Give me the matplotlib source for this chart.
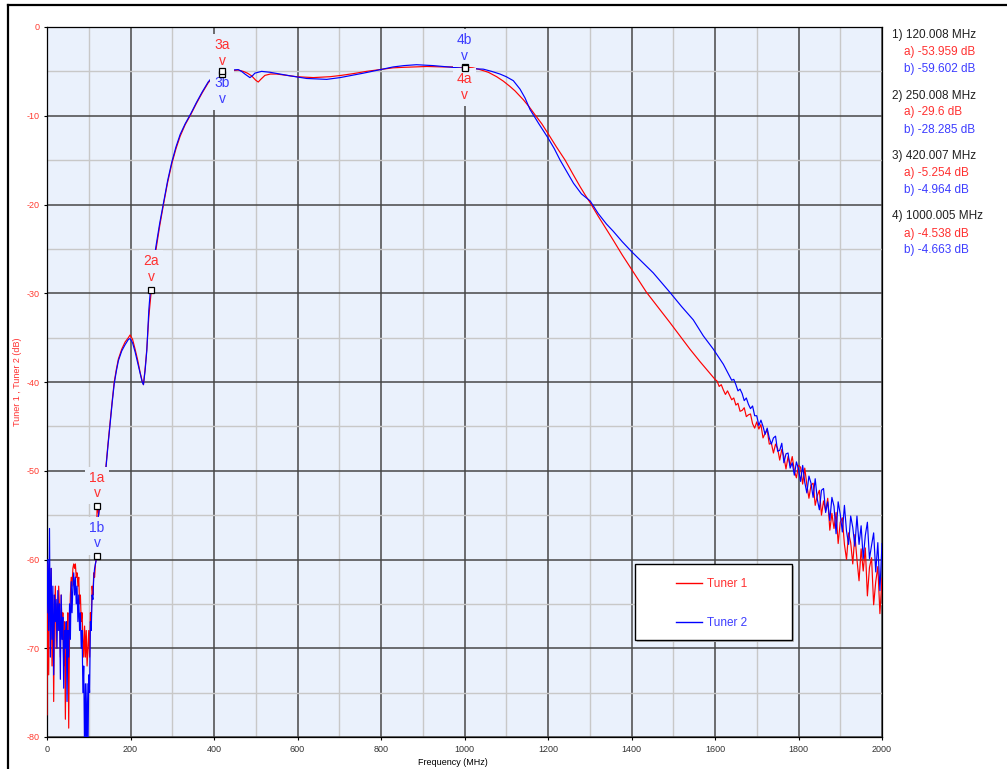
import numpy as np
import matplotlib
matplotlib.use("Agg")
import matplotlib.pyplot as plt
from matplotlib.lines import Line2D
from matplotlib.patches import Rectangle

plt.rcParams['font.family'] = ['Liberation Sans', 'DejaVu Sans']

# ---------------- data ----------------
X_TICKS = [0, 200, 400, 600, 800, 1000, 1200, 1400, 1600, 1800, 2000]
X_TICK_LABELS = ["0", "200", "400", "600", "800", "1000", "1200", "1400", "1600", "1800", "2000"]
Y_TICKS = [0, -10, -20, -30, -40, -50, -60, -70, -80]
Y_TICK_LABELS = ["0", "-10", "-20", "-30", "-40", "-50", "-60", "-70", "-80"]

# low-frequency noise floor (0..118 MHz, 2 MHz steps)
LO_FREQ = np.arange(0, 120, 2)
T1_LO = [-77.5, -60.5, -73, -62, -67, -61, -72, -64, -76, -66,
         -63, -70, -65, -68, -63, -66, -71, -64, -68, -66,
         -72, -67, -78, -69, -70, -66, -79, -68, -64, -62,
         -63, -61, -60.5, -61, -60.5, -62, -61.5, -63, -62, -65,
         -64, -67, -66, -69, -71, -67.5, -71, -68, -72, -70,
         -68, -71, -66, -67, -63, -64, -61.5, -62, -60.5, -60]
T2_LO = [-66, -60, -68, -56.5, -71, -61, -69, -63, -73, -64,
         -67, -64.5, -70, -63.5, -68, -65, -73.5, -64, -69, -66.5,
         -74.5, -68, -70, -67, -76, -68, -71, -65, -69, -62.5,
         -66, -63, -61.5, -64, -62, -65, -63, -67, -64, -68,
         -66, -70, -68, -75, -72, -82, -74, -82, -74, -82,
         -73, -75, -67, -68, -64, -64.5, -62, -61, -60.5, -60]

# passband / roll-off
T1_MID_FREQ = [120, 124, 128, 132, 136, 141, 146, 151, 156, 161,
               166, 171, 179, 187, 195, 199, 205, 211, 217, 223,
               228, 231, 235, 239, 244, 250, 255, 261, 270, 279,
               289, 299, 309, 319, 331, 344, 358, 372, 386, 395,
               405, 412, 420, 430, 445, 458, 470, 480, 490, 500,
               506, 512, 522, 535, 550, 575, 598, 620, 638, 660,
               678, 705, 734, 765, 798, 829, 850, 877, 910, 949,
               975, 1000, 1020, 1037, 1057, 1077, 1093, 1109, 1121, 1133,
               1141, 1155, 1169, 1185, 1200, 1220, 1241, 1260, 1277, 1290,
               1301, 1320, 1340, 1356, 1378, 1400, 1418, 1436, 1464, 1492,
               1516, 1540, 1564, 1582, 1600]
T1_MID = [-53.96, -55.0, -53.0, -52.0, -51.0, -49.6, -47.0, -44.6, -42.2, -40.0,
          -38.6, -37.4, -36.3, -35.5, -35.0, -34.7, -35.2, -36.3, -37.5, -38.9,
          -39.9, -40.3, -38.5, -36.3, -32.6, -29.6, -27.3, -25.1, -22.4, -20.0,
          -17.5, -15.4, -13.7, -12.3, -11.0, -9.9, -8.6, -7.4, -6.3, -5.8,
          -5.5, -5.3, -5.254, -5.0, -4.9, -4.85, -5.0, -5.2, -5.5, -6.0,
          -6.2, -5.9, -5.45, -5.3, -5.3, -5.45, -5.6, -5.65, -5.7, -5.65,
          -5.6, -5.45, -5.25, -5.0, -4.8, -4.6, -4.55, -4.5, -4.45, -4.5,
          -4.5, -4.538, -4.6, -4.8, -5.1, -5.6, -6.1, -6.7, -7.2, -7.8,
          -8.2, -9.0, -9.9, -10.9, -12.0, -13.5, -15.0, -16.6, -18.0, -19.0,
          -19.8, -21.3, -22.8, -24.0, -25.7, -27.3, -28.6, -29.9, -31.6, -33.3,
          -34.8, -36.3, -37.7, -38.7, -39.7]

T2_MID_FREQ = [120, 122, 126, 130, 136, 141, 146, 151, 156, 161,
               166, 171, 179, 187, 195, 199, 205, 211, 217, 223,
               228, 231, 235, 239, 244, 250, 255, 261, 270, 279,
               289, 299, 309, 319, 331, 344, 358, 372, 386, 395,
               405, 412, 420, 430, 445, 458, 466, 474, 486, 492,
               498, 514, 534, 558, 582, 602, 622, 645, 670, 702,
               730, 758, 798, 829, 855, 885, 925, 960, 1000, 1045,
               1065, 1085, 1100, 1117, 1133, 1145, 1157, 1178, 1200, 1215,
               1229, 1245, 1261, 1280, 1301, 1320, 1340, 1356, 1378, 1400,
               1426, 1452, 1472, 1492, 1520, 1548, 1572, 1596, 1620]
T2_MID = [-59.6, -55.5, -54.0, -52.5, -51.0, -49.8, -47.2, -44.8, -42.4, -40.2,
          -38.8, -37.6, -36.5, -35.8, -35.2, -35.1, -35.6, -36.6, -37.8, -39.0,
          -40.0, -40.3, -38.7, -36.5, -31.8, -28.3, -26.6, -24.7, -22.1, -19.8,
          -17.3, -15.2, -13.5, -12.1, -10.9, -9.8, -8.5, -7.3, -6.2, -5.7,
          -5.3, -5.1, -4.964, -4.9, -4.85, -4.8, -5.0, -5.3, -5.7, -5.5,
          -5.2, -5.0, -5.1, -5.3, -5.5, -5.65, -5.8, -5.85, -5.9, -5.7,
          -5.45, -5.2, -4.8, -4.5, -4.35, -4.25, -4.35, -4.5, -4.663, -4.75,
          -5.0, -5.3, -5.6, -6.05, -7.0, -8.0, -9.3, -10.9, -12.5, -13.7,
          -15.0, -16.3, -17.6, -18.8, -19.6, -21.0, -22.2, -23.0, -24.2, -25.3,
          -26.5, -27.7, -28.8, -29.9, -31.5, -33.0, -34.8, -36.3, -38.0]

# noisy high-frequency tail (5 MHz steps)
T1_HI_FREQ = np.arange(1605, 2001, 5)
T1_HI = [-39.9, -40.5, -40.3, -40.9, -41.4, -41.0, -41.5, -42.0, -41.8, -42.6,
         -42.4, -43.3, -43.2, -42.9, -43.9, -43.7, -43.6, -44.7, -45.2, -44.5,
         -45.3, -44.8, -46.3, -45.8, -45.4, -47.0, -46.9, -48.0, -47.0, -47.5,
         -48.8, -47.6, -48.4, -49.8, -48.4, -49.4, -48.4, -50.0, -50.8, -49.4,
         -49.6, -51.5, -49.7, -51.6, -53.1, -51.6, -51.4, -53.9, -52.8, -52.2,
         -55.0, -53.4, -54.5, -53.1, -56.7, -54.8, -56.5, -54.7, -58.2, -55.8,
         -55.3, -58.3, -60.0, -57.0, -58.1, -60.5, -57.2, -60.0, -62.4, -58.8,
         -61.3, -58.7, -64.1, -60.9, -59.8, -65.1, -62.5, -60.8, -66.1, -62.1]
T2_HI_FREQ = np.arange(1640, 2001, 5)
T2_HI = [-39.8, -39.7, -40.3, -41.0, -40.8, -41.3, -42.1, -41.8, -42.5, -43.0,
         -42.7, -43.8, -43.8, -44.9, -44.3, -45.0, -45.9, -45.2, -46.3, -47.0,
         -46.3, -46.1, -47.8, -47.7, -46.9, -49.1, -48.1, -48.0, -49.7, -49.1,
         -50.5, -49.0, -49.8, -51.2, -49.4, -51.3, -52.5, -50.6, -51.4, -53.0,
         -50.9, -53.2, -54.4, -52.2, -52.0, -54.7, -53.5, -55.6, -53.0, -54.0,
         -57.1, -53.5, -54.9, -56.9, -53.9, -56.8, -58.3, -55.1, -56.4, -58.5,
         -55.1, -58.3, -56.2, -59.9, -57.3, -55.8, -59.9, -58.4, -57.0, -61.4,
         -58.1, -63.5, -58.2]

# markers
MARKER_FREQ = [120.008, 250.008, 420.007, 1000.005]
MARKER_T1 = [-53.959, -29.6, -5.254, -4.538]
MARKER_T2 = [-59.602, -28.285, -4.964, -4.663]
# (marker index, series, label, placement)
MARKER_TAGS = [(0, 1, "1a", "above"), (0, 2, "1b", "above"),
               (1, 1, "2a", "above"),
               (2, 1, "3a", "above"), (2, 2, "3b", "below"),
               (3, 1, "4a", "below"), (3, 2, "4b", "above")]

SERIES_NAMES = ["Tuner 1", "Tuner 2"]

# ---------------- styling ----------------
W, H = 1007, 769
BG = '#eaf1fc'
RED_LINE, BLUE_LINE = '#ff0000', '#0000ff'
RED_TXT, BLUE_TXT = '#ff3030', '#3c3cff'

fig = plt.figure(figsize=(W / 100, H / 100), dpi=100)
fig.patch.set_facecolor('white')
ax = fig.add_axes([47 / W, 1 - 737 / H, 835 / W, 710 / H])
ax.set_facecolor(BG)
ax.set_xlim(0, 2000)
ax.set_ylim(-80, 0)

ax.set_xticks(X_TICKS)
ax.set_xticklabels(X_TICK_LABELS)
ax.set_yticks(Y_TICKS)
ax.set_yticklabels(Y_TICK_LABELS)
ax.set_xticks(np.arange(0, 2001, 100), minor=True)
ax.set_yticks(np.arange(-80, 1, 5), minor=True)
ax.set_axisbelow(True)
ax.grid(which='major', color='#474747', lw=1.1)
ax.grid(which='minor', color='#c8c8c8', lw=1.0)
ax.tick_params(which='minor', length=0)
ax.tick_params(which='major', length=2.5, width=0.8, color='black', labelsize=6.5)
ax.tick_params(axis='y', labelcolor='#ff3b30', pad=3)
ax.tick_params(axis='x', labelcolor='#333333', pad=3.5)
for s in ax.spines.values():
    s.set_color('black')
    s.set_linewidth(0.9)

ax.set_ylabel("Tuner 1 , Tuner 2 (dB)", color='#ff3030', fontsize=6.5)
ax.yaxis.set_label_coords(-0.030, 0.5)
ax.set_xlabel("Frequency (MHz)", color='black', fontsize=6.5)
ax.xaxis.set_label_coords(0.486, -0.029)

t1_f = np.concatenate([LO_FREQ, T1_MID_FREQ, T1_HI_FREQ])
t1_v = np.concatenate([T1_LO, T1_MID, T1_HI])
t2_f = np.concatenate([LO_FREQ, T2_MID_FREQ, T2_HI_FREQ])
t2_v = np.concatenate([T2_LO, T2_MID, T2_HI])
l1, = ax.plot(t1_f, t1_v, color=RED_LINE, lw=0.85, zorder=3, label=SERIES_NAMES[0])
l2, = ax.plot(t2_f, t2_v, color=BLUE_LINE, lw=0.85, zorder=3, label=SERIES_NAMES[1])

# marker labels + squares
for idx, ser, tag, where in MARKER_TAGS:
    f = MARKER_FREQ[idx]
    v = MARKER_T1[idx] if ser == 1 else MARKER_T2[idx]
    col = RED_TXT if ser == 1 else BLUE_TXT
    dy = 4 if where == "above" else -3.5
    ax.annotate(tag + "\nv", xy=(f, v), xytext=(0, dy), textcoords='offset points',
                ha='center', va='bottom' if where == "above" else 'top',
                multialignment='center', fontsize=10, color=col, linespacing=1.15,
                bbox=dict(boxstyle='square,pad=0.3', fc=BG, ec='none'), zorder=5)
    ax.plot([f], [v], ls='none', marker='s', ms=4, mfc='white', mec='black',
            mew=0.9, zorder=7)

# legend box
ax.add_patch(Rectangle((0.7065, 0.1336), 0.188, 0.107, transform=ax.transAxes,
                       fc='#bbbbbb', ec='none', zorder=8))
ax.add_patch(Rectangle((0.7042, 0.1364), 0.188, 0.107, transform=ax.transAxes,
                       fc='white', ec='black', lw=1.0, zorder=9))
leg = ax.legend(handles=[l1, l2], loc='upper left', bbox_to_anchor=(0.7533, 0.2234),
                frameon=False, borderpad=0, borderaxespad=0, handlelength=2.2,
                handletextpad=0.45, labelspacing=2.25, fontsize=8.5)
leg.set_zorder(10)
for txt, c in zip(leg.get_texts(), [RED_TXT, BLUE_TXT]):
    txt.set_color(c)
for h in leg.legend_handles:
    h.set_linewidth(1.0)

# marker read-out panel
y0 = 35
for i, f in enumerate(MARKER_FREQ):
    yy = y0 + i * 60.5
    fig.text(891.5 / W, 1 - yy / H, f"{i + 1}) {f:.3f} MHz", fontsize=8.5,
             color='#202020', va='center', ha='left')
    fig.text(903.5 / W, 1 - (yy + 17) / H, f"a) {MARKER_T1[i]} dB", fontsize=8.5,
             color=RED_TXT, va='center', ha='left')
    fig.text(903.5 / W, 1 - (yy + 34) / H, f"b) {MARKER_T2[i]} dB", fontsize=8.5,
             color=BLUE_TXT, va='center', ha='left')

# outer frame (top and left edges)
fig.add_artist(Line2D([8 / W, 1], [1 - 5 / H, 1 - 5 / H], transform=fig.transFigure,
                      color='black', lw=1.6))
fig.add_artist(Line2D([8 / W, 8 / W], [0, 1 - 5 / H], transform=fig.transFigure,
                      color='black', lw=1.6))

fig.savefig("out.png", dpi=100)
